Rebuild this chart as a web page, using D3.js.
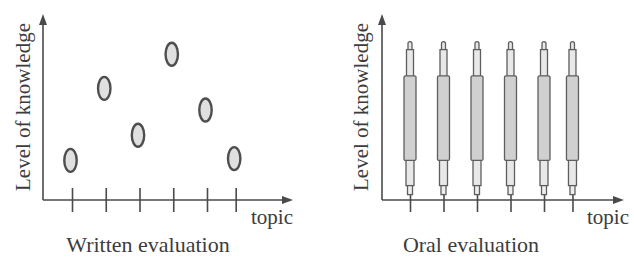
<!DOCTYPE html>
<html>
<head>
<meta charset="utf-8">
<script src="https://cdn.jsdelivr.net/npm/d3@7"></script>
<style>
  body { margin: 0; background: #fff; }
  text { font-family: "Liberation Serif", "Times New Roman", serif; fill: #3c3c3c; }
</style>
</head>
<body>
<svg id="chart" width="634" height="257"></svg>
<script>
// topic positions along the x axis (last one sits a bit closer)
const topics = [1, 2, 3, 4, 5, 5.85]
// written evaluation: one measured level per topic
const writtenLevel = [2.2, 6.2, 3.6, 8.1, 5.0, 2.3]
// oral evaluation: spread of level per topic (tip, body top, body bottom, foot, end)
const oralTip = [8.8, 8.8, 8.8, 8.8, 8.8, 8.8]
const oralHigh = [6.9, 6.9, 6.9, 6.9, 6.9, 6.9]
const oralLow = [2.2, 2.2, 2.2, 2.2, 2.2, 2.2]
const oralFoot = [0.8, 0.8, 0.8, 0.8, 0.8, 0.8]
const oralEnd = [0.3, 0.3, 0.3, 0.3, 0.3, 0.3]
const yLabel = "Level of knowledge"
const xLabel = "topic"
const titles = ["Written evaluation", "Oral evaluation"]

const ink = "#4a4a4a"
const svg = d3.select("#chart")
const yScale = d3.scaleLinear().domain([0, 10]).range([200, 20])

function drawPanel({originX, tick1, tick5, arrowEnd, title, labelX, topicX, titleX}) {
    const g = svg.append("g")
    const xScale = d3.scaleLinear().domain([1, 5]).range([tick1, tick5])
    const y0 = yScale(0)

    // axes with arrow heads
    g.append("line").attr("x1", originX).attr("y1", y0).attr("x2", originX).attr("y2", 24)
        .attr("stroke", ink).attr("stroke-width", 1.6)
    g.append("path").attr("d", `M${originX},14 L${originX - 4},25 L${originX + 4},25 Z`).attr("fill", ink)
    g.append("line").attr("x1", originX).attr("y1", y0).attr("x2", arrowEnd - 9).attr("y2", y0)
        .attr("stroke", ink).attr("stroke-width", 1.6)
    g.append("path").attr("d", `M${arrowEnd},${y0} L${arrowEnd - 11},${y0 - 4} L${arrowEnd - 11},${y0 + 4} Z`).attr("fill", ink)

    const xAxis = d3.axisBottom(xScale).tickValues(topics).tickSize(12).tickFormat("")
    const axisG = g.append("g").attr("transform", `translate(0, ${y0})`).call(xAxis)
    axisG.select(".domain").remove()
    axisG.selectAll(".tick line").attr("stroke", ink).attr("stroke-width", 1.6)

    g.append("text").text(xLabel).attr("x", topicX).attr("y", 224).attr("font-size", 21)
    g.append("text").text(title).attr("x", titleX).attr("y", 252)
        .attr("text-anchor", "middle").attr("font-size", 22)
    g.append("text").text(yLabel)
        .attr("transform", `translate(${labelX}, 107) rotate(-90)`)
        .attr("text-anchor", "middle").attr("font-size", 21)

    return {g, xScale, axisG}
}

// left: written evaluation
const left = drawPanel({originX: 43, tick1: 72, tick5: 207, arrowEnd: 293,
    title: titles[0], labelX: 30, topicX: 251, titleX: 148})
left.axisG.selectAll(".tick line").attr("y1", -12)
left.g.selectAll(".dot").data(writtenLevel).join("ellipse")
    .attr("class", "dot")
    .attr("cx", (d, i) => left.xScale(topics[i]) - 1.5)
    .attr("cy", d => yScale(d))
    .attr("rx", 6.2).attr("ry", 11.5)
    .attr("fill", "#e0e0e0").attr("stroke", "#4e4e4e").attr("stroke-width", 2.4)

// right: oral evaluation
const right = drawPanel({originX: 382, tick1: 410, tick5: 544, arrowEnd: 624,
    title: titles[1], labelX: 368, topicX: 587, titleX: 471})
right.axisG.selectAll(".tick line").attr("y1", (d, i) => yScale(oralEnd[i]) - yScale(0))

const pins = right.g.selectAll(".pin").data(topics).join("g")
    .attr("class", "pin")
    .attr("transform", d => `translate(${right.xScale(d)}, 0)`)
const pinStroke = sel => sel.attr("stroke", "#5e5e5e").attr("stroke-width", 1.3)

pins.append("rect").attr("x", -2.5).attr("width", 5)
    .attr("y", (d, i) => yScale(oralFoot[i]) - 1)
    .attr("height", (d, i) => yScale(oralEnd[i]) - yScale(oralFoot[i]) + 1)
    .attr("fill", "#eeeeee").call(pinStroke)
pins.append("rect").attr("x", -4).attr("width", 8)
    .attr("y", (d, i) => yScale(oralLow[i]) - 1)
    .attr("height", (d, i) => yScale(oralFoot[i]) - yScale(oralLow[i]) + 1)
    .attr("fill", "#e8e8e8").call(pinStroke)
pins.append("rect").attr("x", -2).attr("width", 4).attr("rx", 2)
    .attr("y", (d, i) => yScale(oralTip[i]))
    .attr("height", 12)
    .attr("fill", "#e8e8e8").call(pinStroke)
pins.append("rect").attr("x", -3.5).attr("width", 7)
    .attr("y", (d, i) => yScale(oralTip[i]) + 8)
    .attr("height", (d, i) => yScale(oralHigh[i]) - yScale(oralTip[i]) - 7)
    .attr("fill", "#e8e8e8").call(pinStroke)
pins.append("rect").attr("x", -6).attr("width", 12).attr("rx", 1.5)
    .attr("y", (d, i) => yScale(oralHigh[i]))
    .attr("height", (d, i) => yScale(oralLow[i]) - yScale(oralHigh[i]))
    .attr("fill", "#d0d0d0").call(pinStroke)
</script>
</body>
</html>
